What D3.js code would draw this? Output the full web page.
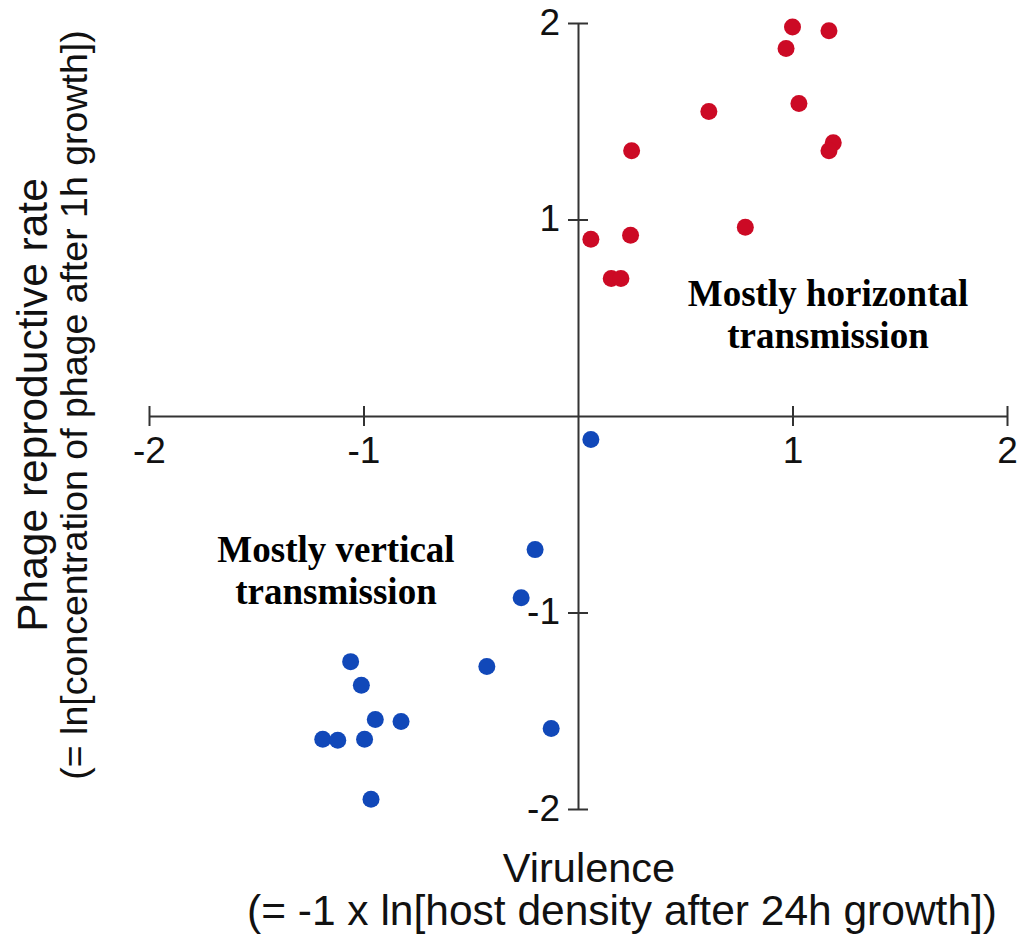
<!DOCTYPE html>
<html>
<head>
  <meta charset="utf-8">
  <style>
    body {
      margin: 0;
      background: #fff;
    }

    .axis path,
    .axis line {
      stroke: #333;
      stroke-width: 2px;
    }

    .axis text {
      font-family: "Liberation Sans", Arial, sans-serif;
      font-size: 37px;
      fill: #111;
    }

    .title {
      font-family: "Liberation Sans", Arial, sans-serif;
      fill: #111;
    }

    .note {
      font-family: "Liberation Serif", "Times New Roman", serif;
      font-weight: bold;
      font-size: 37px;
      fill: #000;
    }
  </style>
  <script src="https://d3js.org/d3.v7.min.js"></script>
</head>

<body>
  <script>
    const width = 1017;
    const height = 935;

    // horizontal-transmission phages (red)
    const redX = [1.00, 1.17, 0.97, 0.61, 1.03, 0.25, 1.19, 1.17, 0.06, 0.245, 0.78, 0.155, 0.20];
    const redY = [1.98, 1.96, 1.87, 1.55, 1.59, 1.35, 1.39, 1.35, 0.90, 0.92, 0.96, 0.70, 0.70];

    // vertical-transmission phages (blue)
    const blueX = [0.06, -0.20, -0.265, -1.06, -0.425, -1.01, -0.945, -0.825, -1.19, -1.12, -0.995, -0.125, -0.965];
    const blueY = [-0.12, -0.68, -0.925, -1.25, -1.275, -1.37, -1.545, -1.555, -1.645, -1.65, -1.645, -1.59, -1.95];

    const xTicks = [-2, -1, 1, 2];
    const yTicks = [-2, -1, 1, 2];

    const x = d3.scaleLinear().domain([-2, 2]).range([149, 1007]);
    const y = d3.scaleLinear().domain([-2, 2]).range([809, 23]);

    const svg = d3.select('body')
      .append('svg')
      .attr('width', width)
      .attr('height', height);

    // x axis through y = 0, ticks cross the line
    const gx = svg.append('g')
      .attr('class', 'axis')
      .attr('transform', `translate(0,${y(0)})`)
      .call(d3.axisBottom(x).tickValues(xTicks).tickFormat(d => String(d))
        .tickSize(10).tickSizeOuter(0).tickPadding(11));
    gx.selectAll('.tick line').attr('y1', -10);
    gx.selectAll('.tick text').attr('dy', '0.71em');

    // y axis through x = 0
    const gy = svg.append('g')
      .attr('class', 'axis')
      .attr('transform', `translate(${x(0)},0)`)
      .call(d3.axisLeft(y).tickValues(yTicks).tickFormat(d => String(d))
        .tickSize(10).tickSizeOuter(0));
    gy.selectAll('.tick line').attr('x1', 10);
    gy.selectAll('.tick text').attr('x', -18).attr('dy', '0.3em');

    svg.append('g')
      .selectAll('circle')
      .data(redX.map((d, i) => [d, redY[i]]))
      .join('circle')
      .attr('cx', d => x(d[0]))
      .attr('cy', d => y(d[1]))
      .attr('r', 8.5)
      .attr('fill', '#cc0a25');

    svg.append('g')
      .selectAll('circle')
      .data(blueX.map((d, i) => [d, blueY[i]]))
      .join('circle')
      .attr('cx', d => x(d[0]))
      .attr('cy', d => y(d[1]))
      .attr('r', 8.5)
      .attr('fill', '#1148b9');

    // annotations
    const noteH = svg.append('text').attr('class', 'note').attr('text-anchor', 'middle');
    noteH.append('tspan').attr('x', 828).attr('y', 306).text('Mostly horizontal');
    noteH.append('tspan').attr('x', 828).attr('y', 348).text('transmission');

    const noteV = svg.append('text').attr('class', 'note').attr('text-anchor', 'middle');
    noteV.append('tspan').attr('x', 336).attr('y', 562).text('Mostly vertical');
    noteV.append('tspan').attr('x', 336).attr('y', 604).text('transmission');

    // axis titles
    svg.append('text')
      .attr('class', 'title')
      .attr('x', 589)
      .attr('y', 882)
      .attr('text-anchor', 'middle')
      .style('font-size', '41.5px')
      .text('Virulence');

    svg.append('text')
      .attr('class', 'title')
      .attr('x', 622)
      .attr('y', 925)
      .attr('text-anchor', 'middle')
      .style('font-size', '42.5px')
      .text('(= -1 x ln[host density after 24h growth])');

    svg.append('text')
      .attr('class', 'title')
      .attr('transform', 'translate(47,405) rotate(-90)')
      .attr('text-anchor', 'middle')
      .style('font-size', '42.5px')
      .text('Phage reproductive rate');

    svg.append('text')
      .attr('class', 'title')
      .attr('transform', 'translate(87,405) rotate(-90)')
      .attr('text-anchor', 'middle')
      .style('font-size', '37.5px')
      .text('(= ln[concentration of phage after 1h growth])');
  </script>
</body>
</html>
